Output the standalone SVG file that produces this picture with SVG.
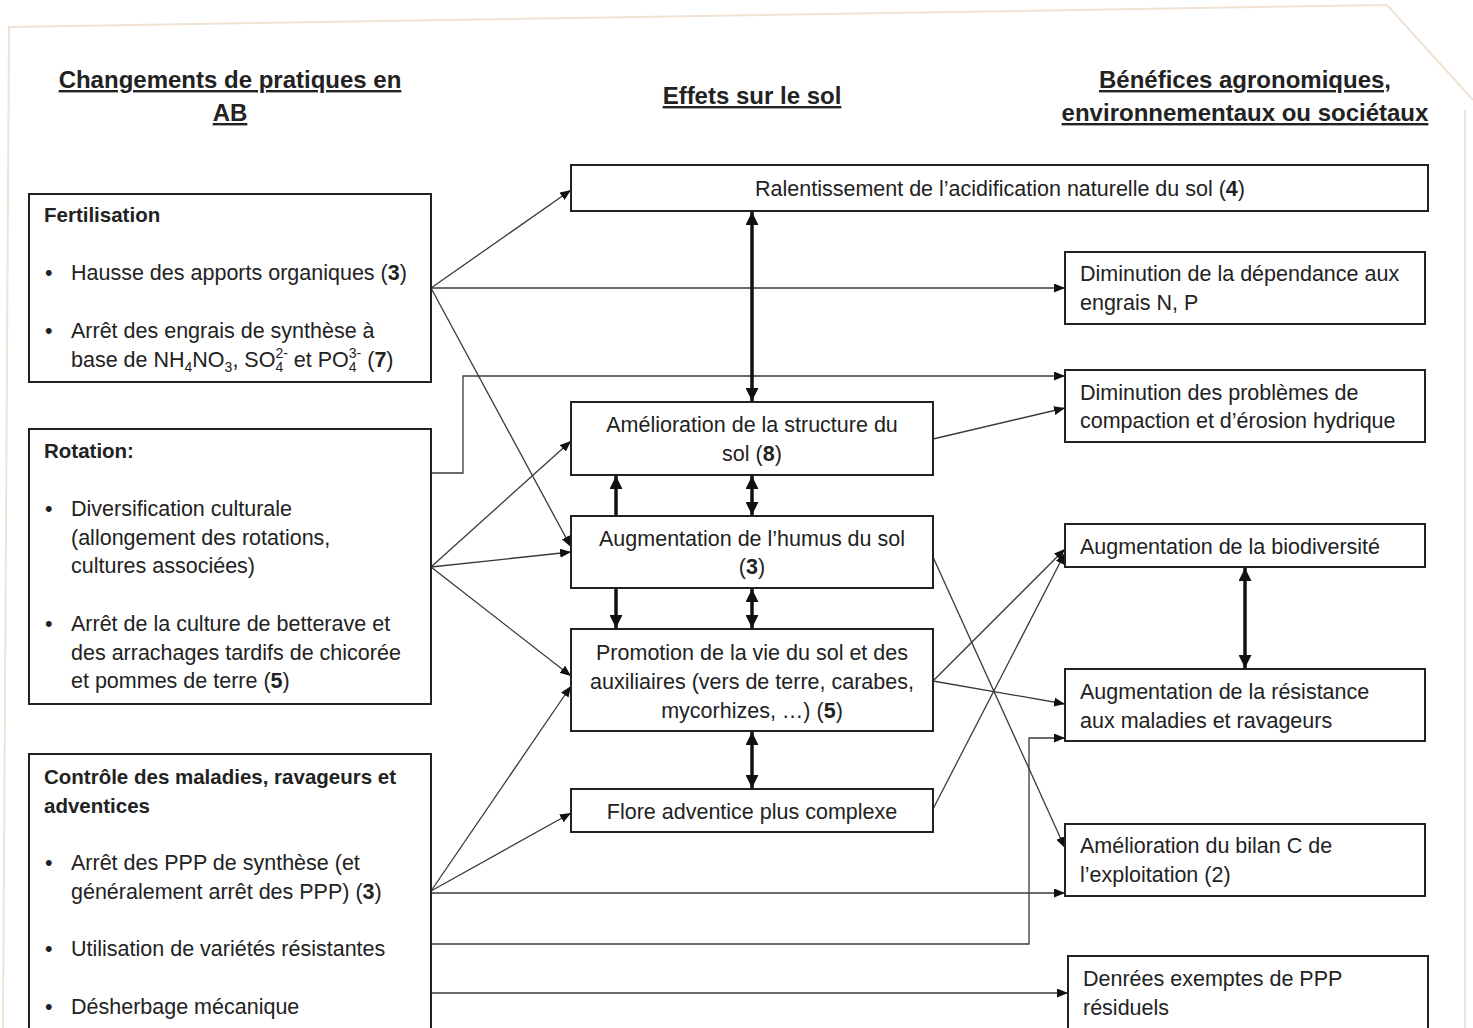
<svg xmlns="http://www.w3.org/2000/svg" width="1473" height="1028" viewBox="0 0 1473 1028">
<style>
.box{fill:#fff;stroke:#222;stroke-width:2}
.t{font-family:"Liberation Sans",Arial,sans-serif;font-size:21.5px;fill:#222}
.ti{font-family:"Liberation Sans",Arial,sans-serif;font-size:20.5px;font-weight:bold;fill:#222}
.h{font-family:"Liberation Sans",Arial,sans-serif;font-size:24px;font-weight:bold;fill:#222;text-decoration:underline;text-anchor:middle}
.c{text-anchor:middle}
.b{font-weight:bold}
.ln{stroke:#3a3a3a;stroke-width:1.3;fill:none;marker-end:url(#ah)}
.tk{stroke:#111;stroke-width:3.5;fill:none;marker-end:url(#ahk)}
.tk2{stroke:#111;stroke-width:3.5;fill:none;marker-end:url(#ahk);marker-start:url(#ahk)}
.edge{fill:none;stroke:#f0e2d4;stroke-width:2}
</style>
<defs>
<marker id="ah" markerUnits="userSpaceOnUse" markerWidth="11" markerHeight="9" refX="11" refY="4.5" orient="auto-start-reverse"><path d="M0,0 L11,4.5 L0,9 z" fill="#111"/></marker>
<marker id="ahk" markerUnits="userSpaceOnUse" markerWidth="13" markerHeight="13" refX="13" refY="6.5" orient="auto-start-reverse"><path d="M0,0 L13,6.5 L0,13 z" fill="#111"/></marker>
</defs>
<rect x="0" y="0" width="1473" height="1028" fill="#fff"/>
<polyline class="edge" points="3,1028 9,27 1387,5 1473,100"/>
<line class="edge" x1="1465" y1="110" x2="1465" y2="1028"/>

<g id="headers">
<text class="h" x="230" y="88">Changements de pratiques en</text>
<text class="h" x="230" y="121">AB</text>
<text class="h" x="752" y="104">Effets sur le sol</text>
<text class="h" x="1245" y="88">Bénéfices agronomiques,</text>
<text class="h" x="1245" y="121">environnementaux ou sociétaux</text>
</g>

<g id="connectors">
<line class="ln" x1="431" y1="288" x2="571" y2="190"/>
<line class="ln" x1="431" y1="288" x2="1065" y2="288"/>
<line class="ln" x1="431" y1="288" x2="571" y2="547"/>
<polyline class="ln" points="431,473 463,473 463,376 1065,376"/>
<line class="ln" x1="431" y1="567" x2="571" y2="441"/>
<line class="ln" x1="431" y1="567" x2="571" y2="552"/>
<line class="ln" x1="431" y1="567" x2="571" y2="676"/>
<line class="ln" x1="933" y1="439" x2="1065" y2="408"/>
<line class="ln" x1="933" y1="557" x2="1065" y2="848"/>
<line class="ln" x1="933" y1="681" x2="1065" y2="549"/>
<line class="ln" x1="933" y1="681" x2="1065" y2="704"/>
<line class="ln" x1="933" y1="809" x2="1065" y2="553"/>
<line class="ln" x1="431" y1="891" x2="571" y2="686"/>
<line class="ln" x1="431" y1="891" x2="571" y2="813"/>
<line class="ln" x1="431" y1="893" x2="1065" y2="893"/>
<polyline class="ln" points="431,944 1029,944 1029,738 1065,738"/>
<line class="ln" x1="431" y1="993" x2="1068" y2="993"/>
<line class="tk2" x1="752" y1="212" x2="752" y2="401"/>
<line class="tk" x1="616" y1="516" x2="616" y2="476"/>
<line class="tk2" x1="752" y1="476" x2="752" y2="515"/>
<line class="tk" x1="616" y1="589" x2="616" y2="628"/>
<line class="tk2" x1="752" y1="589" x2="752" y2="628"/>
<line class="tk2" x1="752" y1="732" x2="752" y2="788"/>
<line class="tk2" x1="1245" y1="568" x2="1245" y2="668"/>
</g>

<g id="fertilisation">
<rect class="box" x="29" y="194" width="402" height="188"/>
<text class="ti" x="44" y="221.5">Fertilisation</text>
<text class="t" x="45" y="279.5">•</text>
<text class="t" x="71" y="279.5">Hausse des apports organiques (<tspan class="b">3</tspan>)</text>
<text class="t" x="45" y="337.5">•</text>
<text class="t" x="71" y="337.5">Arrêt des engrais de synthèse à</text>
<text class="t" x="71" y="366.5">base de NH<tspan font-size="14" dy="5">4</tspan><tspan dy="-5">NO</tspan><tspan font-size="14" dy="5">3</tspan><tspan dy="-5">, SO</tspan><tspan font-size="14" dy="5">4</tspan><tspan font-size="14" dx="-7.8" dy="-14">2-</tspan><tspan dy="9"> et PO</tspan><tspan font-size="14" dy="5">4</tspan><tspan font-size="14" dx="-7.8" dy="-14">3-</tspan><tspan dy="9"> (<tspan class="b">7</tspan>)</tspan></text>
</g>

<g id="rotation">
<rect class="box" x="29" y="429" width="402" height="275"/>
<text class="ti" x="44" y="457.5">Rotation:</text>
<text class="t" x="45" y="515.5">•</text>
<text class="t" x="71" y="515.5">Diversification culturale</text>
<text class="t" x="71" y="544.5">(allongement des rotations,</text>
<text class="t" x="71" y="572.5">cultures associées)</text>
<text class="t" x="45" y="630.5">•</text>
<text class="t" x="71" y="630.5">Arrêt de la culture de betterave et</text>
<text class="t" x="71" y="659.5">des arrachages tardifs de chicorée</text>
<text class="t" x="71" y="687.5">et pommes de terre (<tspan class="b">5</tspan>)</text>
</g>

<g id="controle">
<rect class="box" x="29" y="754" width="402" height="290"/>
<text class="ti" x="44" y="783.5">Contrôle des maladies, ravageurs et</text>
<text class="ti" x="44" y="812.5">adventices</text>
<text class="t" x="45" y="869.5">•</text>
<text class="t" x="71" y="869.5">Arrêt des PPP de synthèse (et</text>
<text class="t" x="71" y="898.5">généralement arrêt des PPP) (<tspan class="b">3</tspan>)</text>
<text class="t" x="45" y="955.5">•</text>
<text class="t" x="71" y="955.5">Utilisation de variétés résistantes</text>
<text class="t" x="45" y="1013.5">•</text>
<text class="t" x="71" y="1013.5">Désherbage mécanique</text>
</g>

<g id="ralentissement">
<rect class="box" x="571" y="165" width="857" height="46"/>
<text class="t c" x="1000" y="195.5">Ralentissement de l’acidification naturelle du sol (<tspan class="b">4</tspan>)</text>
</g>

<g id="structure">
<rect class="box" x="571" y="402" width="362" height="73"/>
<text class="t c" x="752" y="431.5">Amélioration de la structure du</text>
<text class="t c" x="752" y="460.5">sol (<tspan class="b">8</tspan>)</text>
</g>

<g id="humus">
<rect class="box" x="571" y="516" width="362" height="72"/>
<text class="t c" x="752" y="545.5">Augmentation de l’humus du sol</text>
<text class="t c" x="752" y="573.5">(<tspan class="b">3</tspan>)</text>
</g>

<g id="vie-sol">
<rect class="box" x="571" y="629" width="362" height="102"/>
<text class="t c" x="752" y="659.5">Promotion de la vie du sol et des</text>
<text class="t c" x="752" y="688.5">auxiliaires (vers de terre, carabes,</text>
<text class="t c" x="752" y="717.5">mycorhizes, …) (<tspan class="b">5</tspan>)</text>
</g>

<g id="flore">
<rect class="box" x="571" y="789" width="362" height="43"/>
<text class="t c" x="752" y="818.5">Flore adventice plus complexe</text>
</g>

<g id="dependance">
<rect class="box" x="1065" y="252" width="360" height="72"/>
<text class="t" x="1080" y="280.5">Diminution de la dépendance aux</text>
<text class="t" x="1080" y="309.5">engrais N, P</text>
</g>

<g id="compaction">
<rect class="box" x="1065" y="370" width="360" height="72"/>
<text class="t" x="1080" y="399.5">Diminution des problèmes de</text>
<text class="t" x="1080" y="427.5">compaction et d’érosion hydrique</text>
</g>

<g id="biodiversite">
<rect class="box" x="1065" y="524" width="360" height="43"/>
<text class="t" x="1080" y="553.5">Augmentation de la biodiversité</text>
</g>

<g id="resistance">
<rect class="box" x="1065" y="669" width="360" height="72"/>
<text class="t" x="1080" y="698.5">Augmentation de la résistance</text>
<text class="t" x="1080" y="727.5">aux maladies et ravageurs</text>
</g>

<g id="bilan-c">
<rect class="box" x="1065" y="824" width="360" height="72"/>
<text class="t" x="1080" y="852.5">Amélioration du bilan C de</text>
<text class="t" x="1080" y="881.5">l’exploitation (2)</text>
</g>

<g id="denrees">
<rect class="box" x="1068" y="956" width="360" height="90"/>
<text class="t" x="1083" y="985.5">Denrées exemptes de PPP</text>
<text class="t" x="1083" y="1014.5">résiduels</text>
</g>
</svg>
